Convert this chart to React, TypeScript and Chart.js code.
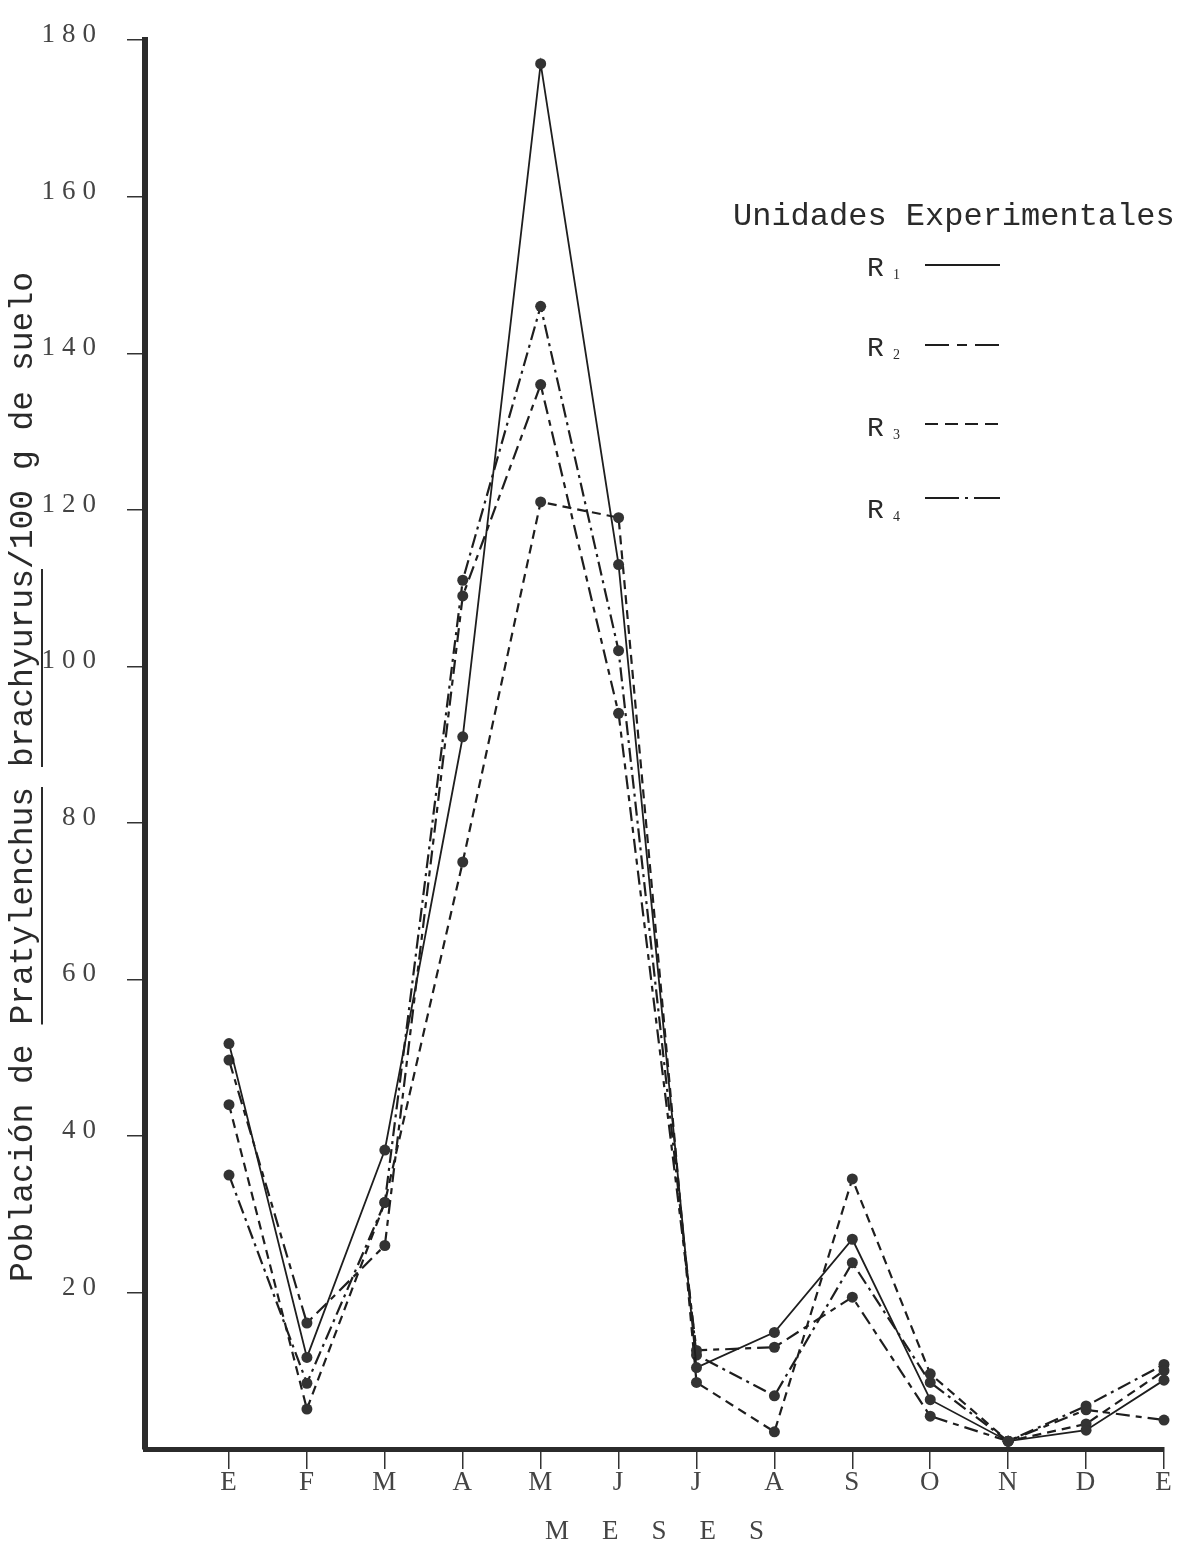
import React, { useEffect, useRef } from 'react';
import { Chart, registerables } from 'chart.js';

Chart.register(...registerables);

// Month initials (Enero ... Diciembre, Enero)
const months = ['E', 'F', 'M', 'A', 'M', 'J', 'J', 'A', 'S', 'O', 'N', 'D', 'E'];

// Población de Pratylenchus brachyurus / 100 g de suelo
const r1Values = [51.8, 11.7, 38.2, 91, 177, 113, 10.4, 14.9, 26.8, 6.3, 1.0, 2.4, 8.8];
const r2Values = [49.7, 16.1, 26, 109, 136, 94, 12.6, 13.0, 19.4, 4.2, 1.0, 5.0, 3.7];
const r3Values = [44, 5.1, 31.5, 75, 121, 119, 8.5, 2.2, 34.5, 9.6, 1.0, 3.2, 10.0];
const r4Values = [35, 8.4, 31.5, 111, 146, 102, 12.0, 6.8, 23.8, 8.5, 1.0, 5.5, 10.8];

const yTickValues = [20, 40, 60, 80, 100, 120, 140, 160, 180];

const seriesNames = ['R', 'R', 'R', 'R'];
const seriesSubs = ['1', '2', '3', '4'];

const yTitle = 'Población de Pratylenchus brachyurus/100 g de suelo';
const yTitleUnderlined = ['Pratylenchus', 'brachyurus'];
const xTitle = 'MESES';
const legendTitle = 'Unidades Experimentales';

const plotDashes = [[], [14, 6, 6, 6], [9, 6], [14, 5, 3, 5]];
const legendDashes = [[], [24, 8, 10, 8], [13, 7], [34, 6, 3, 6]];

const INK = '#1e1e1e';

const decorPlugin = {
  id: 'decor',
  beforeDraw(chart: any) {
    const ctx = chart.ctx;
    ctx.save();
    ctx.fillStyle = '#ffffff';
    ctx.fillRect(0, 0, chart.width, chart.height);
    ctx.restore();
    ctx.letterSpacing = '7px';
  },
  beforeDatasetsDraw(chart: any) {
    chart.ctx.letterSpacing = '0px';
  },
  afterDraw(chart: any) {
    const ctx = chart.ctx;

    // Y axis title (rotated), with underlined genus and species
    ctx.save();
    ctx.letterSpacing = '0px';
    ctx.fillStyle = '#2a2a2a';
    ctx.strokeStyle = '#2a2a2a';
    ctx.font = '33px "Liberation Mono", "DejaVu Sans Mono", monospace';
    ctx.translate(32, 777);
    ctx.rotate(-Math.PI / 2);
    ctx.textAlign = 'left';
    ctx.textBaseline = 'alphabetic';
    const full = ctx.measureText(yTitle).width;
    const start = -full / 2;
    ctx.fillText(yTitle, start, 0);
    ctx.lineWidth = 2;
    for (const word of yTitleUnderlined) {
      const idx = yTitle.indexOf(word);
      const pre = ctx.measureText(yTitle.slice(0, idx)).width;
      const w = ctx.measureText(word).width;
      ctx.beginPath();
      ctx.moveTo(start + pre, 10);
      ctx.lineTo(start + pre + w, 10);
      ctx.stroke();
    }
    ctx.restore();

    // X axis title
    ctx.save();
    ctx.letterSpacing = '33px';
    ctx.fillStyle = '#444';
    ctx.font = '27px "Liberation Serif", "DejaVu Serif", serif';
    ctx.textAlign = 'left';
    ctx.textBaseline = 'alphabetic';
    ctx.fillText(xTitle, 545, 1539);
    ctx.restore();

    // Legend
    ctx.save();
    ctx.letterSpacing = '0px';
    ctx.fillStyle = '#2a2a2a';
    ctx.font = '32px "Liberation Mono", "DejaVu Sans Mono", monospace';
    ctx.textAlign = 'left';
    ctx.textBaseline = 'alphabetic';
    ctx.fillText(legendTitle, 733, 225);
    const rowY = [265, 345, 424, 498];
    const labelY = [276, 356, 436, 518];
    chart.data.datasets.forEach((ds: any, i: number) => {
      ctx.font = '28px "Liberation Mono", "DejaVu Sans Mono", monospace';
      ctx.fillStyle = '#2a2a2a';
      ctx.fillText(seriesNames[i], 867, labelY[i]);
      ctx.font = '14px "Liberation Serif", "DejaVu Serif", serif';
      ctx.fillText(seriesSubs[i], 893, labelY[i] + 3);
      ctx.beginPath();
      ctx.setLineDash(legendDashes[i]);
      ctx.strokeStyle = INK;
      ctx.lineWidth = 2;
      ctx.moveTo(925, rowY[i]);
      ctx.lineTo(1000, rowY[i]);
      ctx.stroke();
    });
    ctx.setLineDash([]);
    ctx.restore();
  },
};

export default function App() {
  const canvasRef = useRef<HTMLCanvasElement | null>(null);

  useEffect(() => {
    if (!canvasRef.current) return;
    const allSeries = [r1Values, r2Values, r3Values, r4Values];
    const chart = new Chart(canvasRef.current, {
      type: 'line',
      data: {
        datasets: allSeries.map((vals, i) => ({
          label: seriesNames[i] + seriesSubs[i],
          data: vals.map((v, k) => ({ x: k + 1, y: v })),
          borderColor: INK,
          borderWidth: i === 0 ? 1.8 : 2.2,
          borderDash: plotDashes[i],
          pointRadius: 5.5,
          pointBackgroundColor: '#333',
          pointBorderColor: '#333',
          pointBorderWidth: 0,
          tension: 0,
          fill: false,
          clip: false,
        })),
      },
      options: {
        animation: false,
        responsive: false,
        devicePixelRatio: 1,
        layout: { padding: { left: 0, top: 35, right: 23, bottom: 0 } },
        plugins: {
          legend: { display: false },
          tooltip: { enabled: false },
          title: { display: false },
        },
        scales: {
          x: {
            type: 'linear',
            min: -0.078,
            max: 13,
            afterBuildTicks: (scale: any) => {
              scale.ticks = months.map((_, i) => ({ value: i + 1 }));
            },
            afterFit: (scale: any) => {
              scale.height = 95;
            },
            ticks: {
              autoSkip: false,
              maxRotation: 0,
              padding: -2,
              labelOffset: 3,
              color: '#444',
              font: { family: '"Liberation Serif", "DejaVu Serif", serif', size: 27 },
              callback: (_v: any, index: number) => months[index],
            },
            grid: {
              drawOnChartArea: false,
              drawTicks: true,
              tickLength: 20,
              color: '#333',
              lineWidth: 1.5,
            },
            border: { display: true, color: '#2b2b2b', width: 5 },
          },
          y: {
            type: 'linear',
            min: 0,
            max: 180,
            afterBuildTicks: (scale: any) => {
              scale.ticks = yTickValues.map((v) => ({ value: v }));
            },
            afterFit: (scale: any) => {
              scale.width = 145;
            },
            ticks: {
              padding: 24,
              labelOffset: -5,
              color: '#444',
              font: { family: '"Liberation Serif", "DejaVu Serif", serif', size: 27 },
            },
            grid: {
              drawOnChartArea: false,
              drawTicks: true,
              tickLength: 18,
              color: '#333',
              lineWidth: 1.5,
            },
            border: { display: true, color: '#2b2b2b', width: 6 },
          },
        },
      } as any,
      plugins: [decorPlugin],
    });
    return () => chart.destroy();
  }, []);

  return (
    <div style={{ position: 'absolute', left: 0, top: 0, width: 1187, height: 1544, background: '#fff' }}>
      <canvas ref={canvasRef} width={1187} height={1544} />
    </div>
  );
}
